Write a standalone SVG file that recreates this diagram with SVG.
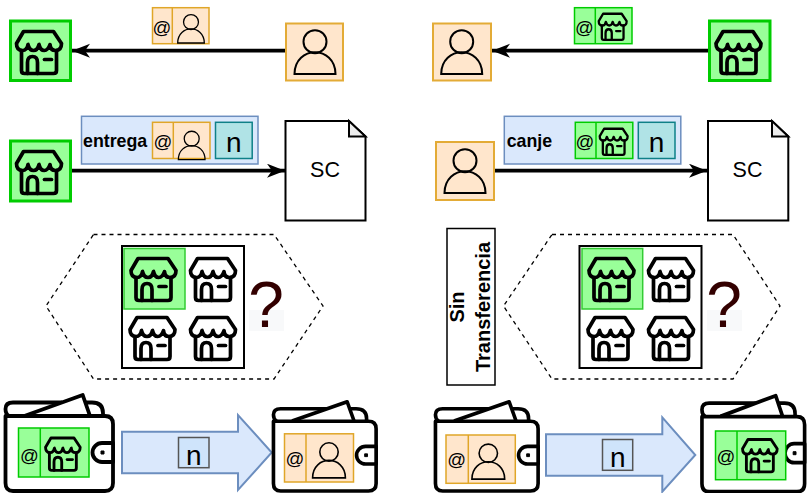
<svg xmlns="http://www.w3.org/2000/svg" width="808" height="493" viewBox="0 0 808 493">
<style>
text{font-family:"Liberation Sans",Arial,sans-serif;fill:#000;text-anchor:middle}
.o{fill:#ffe6cc;stroke:#e0a628;stroke-width:1.5}
.g{fill:#99ff99;stroke:#00cc00;stroke-width:1.5}
.O{fill:#ffe6cc;stroke:#e3ab36;stroke-width:2}
.G{fill:#99ff99;stroke:#00cc00;stroke-width:3}
.b{fill:#dae8fc;stroke:#6c8ebf;stroke-width:1.5}
.t{fill:#b0e3e6;stroke:#0e8088;stroke-width:1.5}
.at{font-size:18.500px}
.n{font-size:28px}
.bold{font-weight:bold;text-anchor:start;font-size:17.800px}
.sc{font-size:21.500px}
.q{font-size:64px;fill:#330000}
.big{fill:#dae8fc;stroke:#6c8ebf;stroke-width:2}
.nb{fill:#cfe4fb;stroke:#555;stroke-width:1.5}
.hex{fill:none;stroke:#000;stroke-width:1.3;stroke-dasharray:4 4}
.doc{fill:#fff;stroke:#000;stroke-width:2}
.fold{fill:#eee;stroke:#000;stroke-width:2}
.grid{fill:#fff;stroke:#000;stroke-width:2}
.ln{fill:none;stroke:#000;stroke-width:3.700;marker-end:url(#ah)}
</style>
<defs>
<marker id="ah" markerUnits="userSpaceOnUse" markerWidth="20" markerHeight="16" refX="18" refY="7" orient="auto">
<path d="M0 0L18 7L0 14L5 7Z" fill="#000"/>
</marker>
<g id="store" fill="none" stroke="#000" stroke-width="3.700" stroke-linejoin="round" stroke-linecap="round">
<path d="M9 2H39L47 14Q47 21 41 21Q36 21 35.500 15Q33.500 21 29.700 21Q26 21 24.500 15Q23 21 19 21Q15 21 13.500 15Q12.500 21 8 21Q2 21 2 14Z"/>
<path d="M7 21V41Q7 44 10 44H39Q42 44 42 41V21"/>
<path d="M13 44V33Q13 27 18 27Q23 27 23 33V44"/>
<path d="M30 30H37"/>
</g>
<g id="person" fill="none" stroke="#000" stroke-width="2">
<circle cx="0" cy="0" r="11.500"/>
<path d="M-20.500 32.300C-20.500 18 -10 10.500 0 10.500C10 10.500 20.500 18 20.500 32.300Z"/>
</g>
<g id="wallet" fill="#fff" stroke="#000" stroke-width="3.800" stroke-linejoin="round">
<path fill="none" d="M83 402.500H92Q103 402.500 103 413V416"/>
<path d="M9 416Q5.500 414 5.500 409Q5.500 402.500 13 402.500H62"/>
<path d="M25 415.700L82.700 395L90 416"/>
<path d="M5.500 416H105Q113 416 113 424V483Q113 491 105 491H13Q5.500 491 5.500 483Z"/>
<path d="M113 443H102a9.500 9.500 0 0 0 0 19H113Z"/>
<rect x="101" y="451" width="3" height="3" fill="#000" stroke-width="1"/>
</g>
</defs>

<g id="connectors">
<path class="ln" d="M285 50.700H72"/>
<path class="ln" d="M72 170.700H285"/>
<path class="ln" d="M708 50.700H492"/>
<path class="ln" d="M494 170.700H707"/>
</g>

<g id="store-a"><rect class="G" x="10.500" y="21" width="60" height="59.500"/><use href="#store" x="14.500" y="29.500"/></g>
<g id="person-a"><rect class="O" x="286" y="23.500" width="57" height="57"/><use href="#person" x="315" y="41.700"/></g>
<g id="label-a">
<rect class="o" x="152.500" y="7.700" width="56.500" height="36"/><path class="o" d="M172.300 7.700V43.700"/>
<text class="at" x="162" y="33.500">@</text><use href="#person" transform="translate(191 22) scale(.65)"/>
</g>

<g id="store-b"><rect class="G" x="10.500" y="141" width="60" height="60"/><use href="#store" x="14.500" y="149.500"/></g>
<g id="label-b">
<rect class="b" x="81.500" y="116.300" width="176.500" height="47.700"/>
<text class="bold" x="83" y="146.700">entrega</text>
<rect class="o" x="152.500" y="122.300" width="57.500" height="36.200"/><path class="o" d="M173.300 122.300V158.500"/>
<text class="at" x="163" y="148">@</text><use href="#person" transform="translate(191.700 138.700) scale(.65)"/>
<rect class="t" x="215.500" y="122.300" width="36.700" height="36.200"/><text class="n" x="233.800" y="151.500">n</text>
</g>
<g id="doc-a"><path class="doc" d="M285.500 121H349L365.500 136.500V220.500H285.500Z"/><path class="fold" d="M349 121V136.500H365.500Z"/><text class="sc" x="325" y="177">SC</text></g>

<g id="hex-a"><path class="hex" d="M93.500 234.500H274L323 306L274 379H93.500L46 306Z"/></g>
<g id="grid-a">
<rect class="grid" x="122" y="246" width="122" height="122"/>
<rect x="124" y="248.500" width="61" height="60.500" fill="#99ff99" stroke="#33cc33" stroke-width="1.500"/>
<use href="#store" x="129" y="256.500"/><use href="#store" x="188.500" y="256.500"/>
<use href="#store" x="128" y="315.500"/><use href="#store" x="188.500" y="315.500"/>
</g>
<g id="q-a"><rect x="249" y="310" width="35" height="21" fill="#f8f9fa"/><text class="q" x="266" y="327">?</text></g>

<g id="wallet-a"><use href="#wallet"/>
<rect class="g" x="18.500" y="428" width="70.500" height="49"/><path class="g" d="M40.300 428V477"/>
<text class="at" x="29.300" y="461.500">@</text><use href="#store" transform="translate(44 436.500) scale(.77)"/></g>
<g id="arrow-a"><path class="big" d="M122 431.700H238V415L271.700 452.500L238 490V473.300H122Z"/>
<rect class="nb" x="178.500" y="437.500" width="30.500" height="30.200"/><text class="n" x="193.700" y="465">n</text></g>
<g id="wallet-b"><use href="#wallet" transform="translate(268.200 34.400) scale(.955 .93)"/>
<rect class="o" x="284.500" y="433.800" width="69" height="48.200"/><path class="o" d="M306 433.800V482"/>
<text class="at" x="295" y="465">@</text><use href="#person" transform="translate(329 452) scale(.8)"/></g>

<g id="person-c"><rect class="O" x="433" y="23.500" width="58" height="57"/><use href="#person" x="461.700" y="41.700"/></g>
<g id="store-c"><rect class="G" x="709.500" y="21" width="60.500" height="59.500"/><use href="#store" x="714" y="29.500"/></g>
<g id="label-c">
<rect class="g" x="574.500" y="7.700" width="57.500" height="36"/><path class="g" d="M595.300 7.700V43.700"/>
<text class="at" x="584.300" y="33.500">@</text><use href="#store" transform="translate(597.500 12.500) scale(.62)"/>
</g>

<g id="person-d"><rect class="O" x="436" y="142" width="58" height="58"/><use href="#person" x="465" y="160.700"/></g>
<g id="label-d">
<rect class="b" x="504.300" y="116.300" width="176.500" height="47.700"/>
<text class="bold" x="506.700" y="146.700">canje</text>
<rect class="g" x="575.300" y="122.300" width="57.500" height="36.200"/><path class="g" d="M596 122.300V158.500"/>
<text class="at" x="585" y="148">@</text><use href="#store" transform="translate(598.500 127.500) scale(.62)"/>
<rect class="t" x="638.300" y="122.300" width="36.700" height="36.200"/><text class="n" x="656.500" y="151.500">n</text>
</g>
<g id="doc-b"><path class="doc" d="M708 121H772L788.300 136.500V220.500H708Z"/><path class="fold" d="M772 121V136.500H788.300Z"/><text class="sc" x="747.500" y="177">SC</text></g>

<g id="sin-transferencia"><rect x="447" y="228.500" width="48" height="156.500" fill="#fff" stroke="#000" stroke-width="1.500"/>
<g transform="translate(0 307) rotate(-90)"><text class="bold" style="text-anchor:middle;font-size:20px" x="0" y="464">Sin</text><text class="bold" style="text-anchor:middle;font-size:20px" x="0" y="489.500">Transferencia</text></g></g>

<g id="hex-b"><path class="hex" d="M552 234.500H733L780 306L733 379H552L503.500 306Z"/></g>
<g id="grid-b">
<rect class="grid" x="579.500" y="246" width="122" height="122"/>
<rect x="582" y="248.500" width="60.700" height="60.500" fill="#99ff99" stroke="#33cc33" stroke-width="1.500"/>
<use href="#store" x="587" y="256.500"/><use href="#store" x="646.500" y="256.500"/>
<use href="#store" x="586" y="315.500"/><use href="#store" x="646.500" y="315.500"/>
</g>
<g id="q-b"><rect x="707" y="310" width="35" height="21" fill="#f8f9fa"/><text class="q" x="724" y="327">?</text></g>

<g id="wallet-c"><use href="#wallet" transform="translate(430.200 34.400) scale(.955 .93)"/>
<rect class="o" x="446" y="435" width="69.300" height="48.300"/><path class="o" d="M468.300 435V483.300"/>
<text class="at" x="456.700" y="466">@</text><use href="#person" transform="translate(488.300 453.300) scale(.8)"/></g>
<g id="arrow-b"><path class="big" d="M546 434.300H662.300V417.300L695.300 455L662.300 491.700V475.700H546Z"/>
<rect class="nb" x="602.500" y="439.500" width="30.200" height="30.800"/><text class="n" x="617.700" y="466.700">n</text></g>
<g id="wallet-d"><use href="#wallet" transform="translate(696.700 .7) scale(.955 1)"/>
<rect class="g" x="715.500" y="431" width="70.200" height="48.700"/><path class="g" d="M737 431V479.700"/>
<text class="at" x="726" y="462.500">@</text><use href="#store" transform="translate(741 438) scale(.77)"/></g>
</svg>
